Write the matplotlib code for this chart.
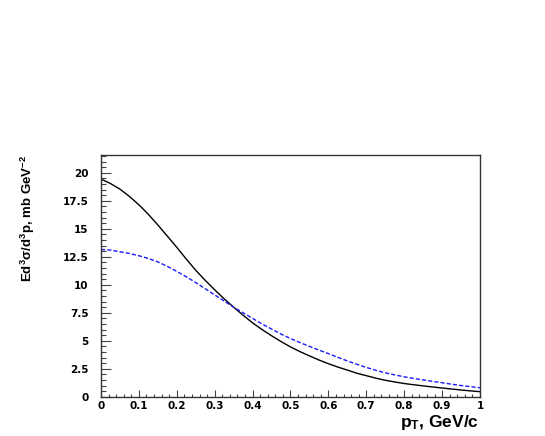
import numpy as np
import matplotlib

# set backend to non GUI
matplotlib.use("Agg")
import matplotlib.pyplot as plt
from matplotlib.ticker import MultipleLocator

# values (p_T step 0.025)
pt = np.round(np.linspace(0.0, 1.0, 41), 3)
solid_curve = [19.45, 19.05, 18.55, 17.9, 17.15, 16.3, 15.35, 14.35, 13.35, 12.3,
               11.3, 10.4, 9.55, 8.75, 8.0, 7.28, 6.6, 6.0, 5.45, 4.93,
               4.45, 4.03, 3.65, 3.28, 2.95, 2.65, 2.38, 2.1, 1.88, 1.66,
               1.47, 1.32, 1.18, 1.07, 0.97, 0.87, 0.78, 0.69, 0.6, 0.52,
               0.45]
dashed_curve = [13.16, 13.1, 12.95, 12.8, 12.6, 12.35, 12.05, 11.65, 11.2, 10.72,
                10.2, 9.65, 9.1, 8.55, 8.0, 7.5, 7.0, 6.5, 6.05, 5.6,
                5.2, 4.84, 4.5, 4.17, 3.85, 3.52, 3.2, 2.9, 2.62, 2.36,
                2.14, 1.95, 1.78, 1.63, 1.5, 1.37, 1.25, 1.12, 1.0, 0.9,
                0.8]

xlabel = r"p$_{\mathrm{T}}$, GeV/c"
ylabel = r"Ed$^{3}\sigma$/d$^{3}$p, mb GeV$^{-2}$"

plt.rcParams["font.family"] = ["Liberation Sans", "DejaVu Sans"]
plt.rcParams["font.weight"] = "bold"
plt.rcParams["mathtext.fontset"] = "custom"
plt.rcParams["mathtext.rm"] = "Liberation Sans:bold"
plt.rcParams["mathtext.bf"] = "Liberation Sans:bold"
plt.rcParams["mathtext.it"] = "Liberation Sans:bold"
plt.rcParams["mathtext.default"] = "rm"

fig = plt.figure(figsize=(5.45, 4.36), dpi=100)
ax = fig.add_axes([0.1853, 0.0901, 0.6954, 0.5544])

ax.plot(pt, solid_curve, color="black", lw=1.0)
ax.plot(pt, dashed_curve, color="#1a1aff", lw=1.0, dashes=(3, 1.5))

ax.set_xlim(0, 1)
ax.set_ylim(0, 21.6)
ax.xaxis.set_major_locator(MultipleLocator(0.1))
ax.xaxis.set_minor_locator(MultipleLocator(0.02))
ax.yaxis.set_major_locator(MultipleLocator(2.5))
ax.yaxis.set_minor_locator(MultipleLocator(0.5))
ax.set_xticklabels([f"{v:g}" for v in ax.get_xticks()])
ax.set_yticklabels([f"{v:g}" for v in ax.get_yticks()])

ax.tick_params(which="both", direction="in", top=False, right=False,
               labelsize=7.5, width=0.8, color="#444444")
ax.tick_params(axis="y", which="major", length=7, pad=9)
ax.tick_params(axis="y", which="minor", length=3.5)
ax.tick_params(axis="x", which="major", length=5, pad=3)
ax.tick_params(axis="x", which="minor", length=2.5)
for lab in ax.get_xticklabels() + ax.get_yticklabels():
    lab.set_fontweight("bold")
    lab.set_family("DejaVu Sans")

for sp in ax.spines.values():
    sp.set_linewidth(1.0)
    sp.set_color("#333333")

# ROOT style titles: y on top, x on the right
fig.text(0.052, 0.645, ylabel, rotation=90, ha="center", va="top",
         fontsize=9.5, fontweight="bold")
fig.text(0.879, 0.03, xlabel, ha="right", va="center", fontsize=12.5,
         fontweight="bold")

fig.savefig("out.png", dpi=100)
